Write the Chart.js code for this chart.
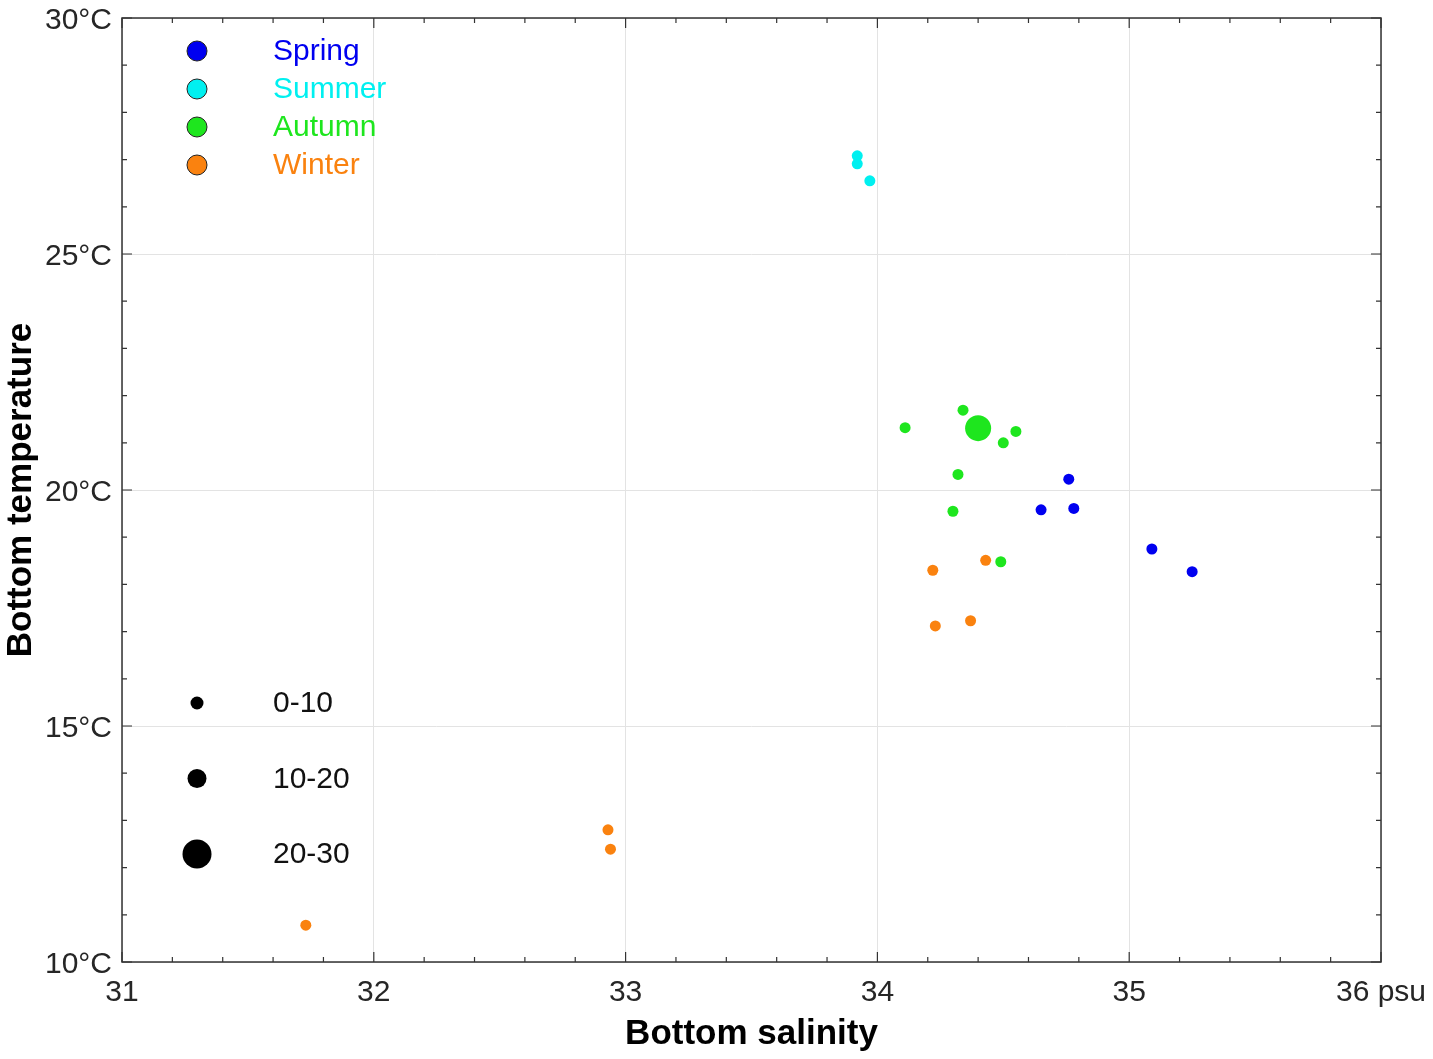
<!DOCTYPE html>
<html>
<head>
<meta charset="utf-8">
<title>Bottom salinity vs bottom temperature</title>
<script src="https://cdn.jsdelivr.net/npm/chart.js@4/dist/chart.umd.min.js"></script>
<style>
  html, body { margin: 0; padding: 0; background: #fff; }
  #chart { display: block; }
</style>
</head>
<body>
<canvas id="chart" width="1433" height="1059"></canvas>
<script>
// bottom salinity (psu) / bottom temperature (°C) per season
const seasons = ['Spring', 'Summer', 'Autumn', 'Winter'];
const seasonColors = ['#0000f0', '#00f0f0', '#1ee61e', '#fa820f'];

const springSal  = [34.76, 34.65, 34.78, 35.09, 35.25];
const springTemp = [20.23, 19.58, 19.61, 18.75, 18.27];
const springCls  = [0, 0, 0, 0, 0];

const summerSal  = [33.92, 33.92, 33.97];
const summerTemp = [27.08, 26.91, 26.55];
const summerCls  = [0, 0, 0];

const autumnSal  = [34.11, 34.34, 34.40, 34.55, 34.50, 34.32, 34.30, 34.49];
const autumnTemp = [21.32, 21.69, 21.31, 21.24, 21.00, 20.33, 19.55, 18.48];
const autumnCls  = [0, 0, 2, 0, 0, 0, 0, 0];

const winterSal  = [34.43, 34.22, 34.23, 34.37, 32.93, 32.94, 31.73];
const winterTemp = [18.51, 18.30, 17.12, 17.23, 12.80, 12.39, 10.78];
const winterCls  = [0, 0, 0, 0, 0, 0, 0];

// size classes
const sizeLabels = ['0-10', '10-20', '20-30'];
const dotRadius = [5.5, 9, 13];
const legendRadius = [6.5, 9.5, 14.5];

const xTicks = [31, 32, 33, 34, 35, 36];
const yTicks = [10, 15, 20, 25, 30];

const FONT = '"Liberation Sans", Arial, Helvetica, sans-serif';
const TXT = '#262626';

function pts(sal, temp){ return sal.map((s, i) => ({ x: s, y: temp[i] })); }
function mkSet(i, sal, temp, cls){
  return {
    label: seasons[i],
    data: pts(sal, temp),
    backgroundColor: seasonColors[i],
    borderWidth: 0,
    pointRadius: cls.map(c => dotRadius[c]),
    pointHoverRadius: cls.map(c => dotRadius[c])
  };
}

// frame + inward ticks on all four sides, and the two in-plot legends
const framePlugin = {
  id: 'frame',
  afterDraw(chart){
    const { ctx, chartArea: a, scales } = chart;
    const xs = scales.x, ys = scales.y;
    ctx.save();
    ctx.strokeStyle = '#333';
    ctx.lineWidth = 1.5;
    ctx.strokeRect(a.left, a.top, a.right - a.left, a.bottom - a.top);
    ctx.lineWidth = 1.2;
    ctx.beginPath();
    for(let k = 0; k <= 25; k++){
      const v = 31 + k * 0.2;
      const len = (k % 5 === 0) ? 10 : 5;
      const px = xs.getPixelForValue(v);
      ctx.moveTo(px, a.bottom); ctx.lineTo(px, a.bottom - len);
      ctx.moveTo(px, a.top); ctx.lineTo(px, a.top + len);
    }
    for(let v = 10; v <= 30; v++){
      const len = (v % 5 === 0) ? 10 : 5;
      const py = ys.getPixelForValue(v);
      ctx.moveTo(a.left, py); ctx.lineTo(a.left + len, py);
      ctx.moveTo(a.right, py); ctx.lineTo(a.right - len, py);
    }
    ctx.stroke();

    // season legend
    const mx = a.left + 75, tx = a.left + 151;
    ctx.font = '30px ' + FONT;
    ctx.textBaseline = 'middle';
    ctx.textAlign = 'left';
    seasons.forEach((s, i) => {
      const y = a.top + 33 + i * 38;
      ctx.beginPath();
      ctx.arc(mx, y, 10, 0, Math.PI * 2);
      ctx.fillStyle = seasonColors[i];
      ctx.fill();
      ctx.lineWidth = 1;
      ctx.strokeStyle = '#222';
      ctx.stroke();
      ctx.fillStyle = seasonColors[i];
      ctx.fillText(s, tx, y + 1);
    });

    // size legend
    sizeLabels.forEach((s, i) => {
      const y = a.top + 685 + i * 75.5;
      ctx.beginPath();
      ctx.arc(mx, y, legendRadius[i], 0, Math.PI * 2);
      ctx.fillStyle = '#000';
      ctx.fill();
      ctx.fillStyle = '#111';
      ctx.fillText(s, tx, y + 1);
    });
    ctx.restore();
  }
};

const ctx = document.getElementById('chart').getContext('2d');
new Chart(ctx, {
  type: 'scatter',
  data: {
    datasets: [
      mkSet(0, springSal, springTemp, springCls),
      mkSet(1, summerSal, summerTemp, summerCls),
      mkSet(2, autumnSal, autumnTemp, autumnCls),
      mkSet(3, winterSal, winterTemp, winterCls)
    ]
  },
  options: {
    responsive: false,
    animation: false,
    devicePixelRatio: 1,
    layout: { padding: { top: 18, right: 52, left: 0, bottom: 0 } },
    plugins: { legend: { display: false }, tooltip: { enabled: false } },
    scales: {
      x: {
        type: 'linear', min: 31, max: 36,
        afterBuildTicks: s => { s.ticks = xTicks.map(v => ({ value: v })); },
        afterFit: s => { s.height = 97; s.paddingLeft = 0; s.paddingRight = 0; },
        grid: { color: '#e3e3e3', lineWidth: 1, drawTicks: false },
        border: { display: false },
        ticks: {
          padding: 13,
          color: TXT,
          font: { family: FONT, size: 30 },
          maxRotation: 0,
          callback: v => v === 36 ? '36 psu' : String(v)
        },
        title: {
          display: true, text: 'Bottom salinity', color: '#000',
          font: { family: FONT, size: 35, weight: 'bold' },
          padding: { top: 0, bottom: 4 }
        }
      },
      y: {
        type: 'linear', min: 10, max: 30,
        afterBuildTicks: s => { s.ticks = yTicks.map(v => ({ value: v })); },
        afterFit: s => { s.width = 122; s.paddingTop = 0; s.paddingBottom = 0; },
        grid: { color: '#e3e3e3', lineWidth: 1, drawTicks: false },
        border: { display: false },
        ticks: {
          padding: 10,
          labelOffset: 3,
          color: TXT,
          font: { family: FONT, size: 30 },
          callback: v => v + '°C'
        },
        title: {
          display: true, text: 'Bottom temperature', color: '#000',
          font: { family: FONT, size: 35, weight: 'bold' },
          padding: { top: 0, bottom: 0 }
        }
      }
    }
  },
  plugins: [framePlugin]
});
</script>
</body>
</html>
